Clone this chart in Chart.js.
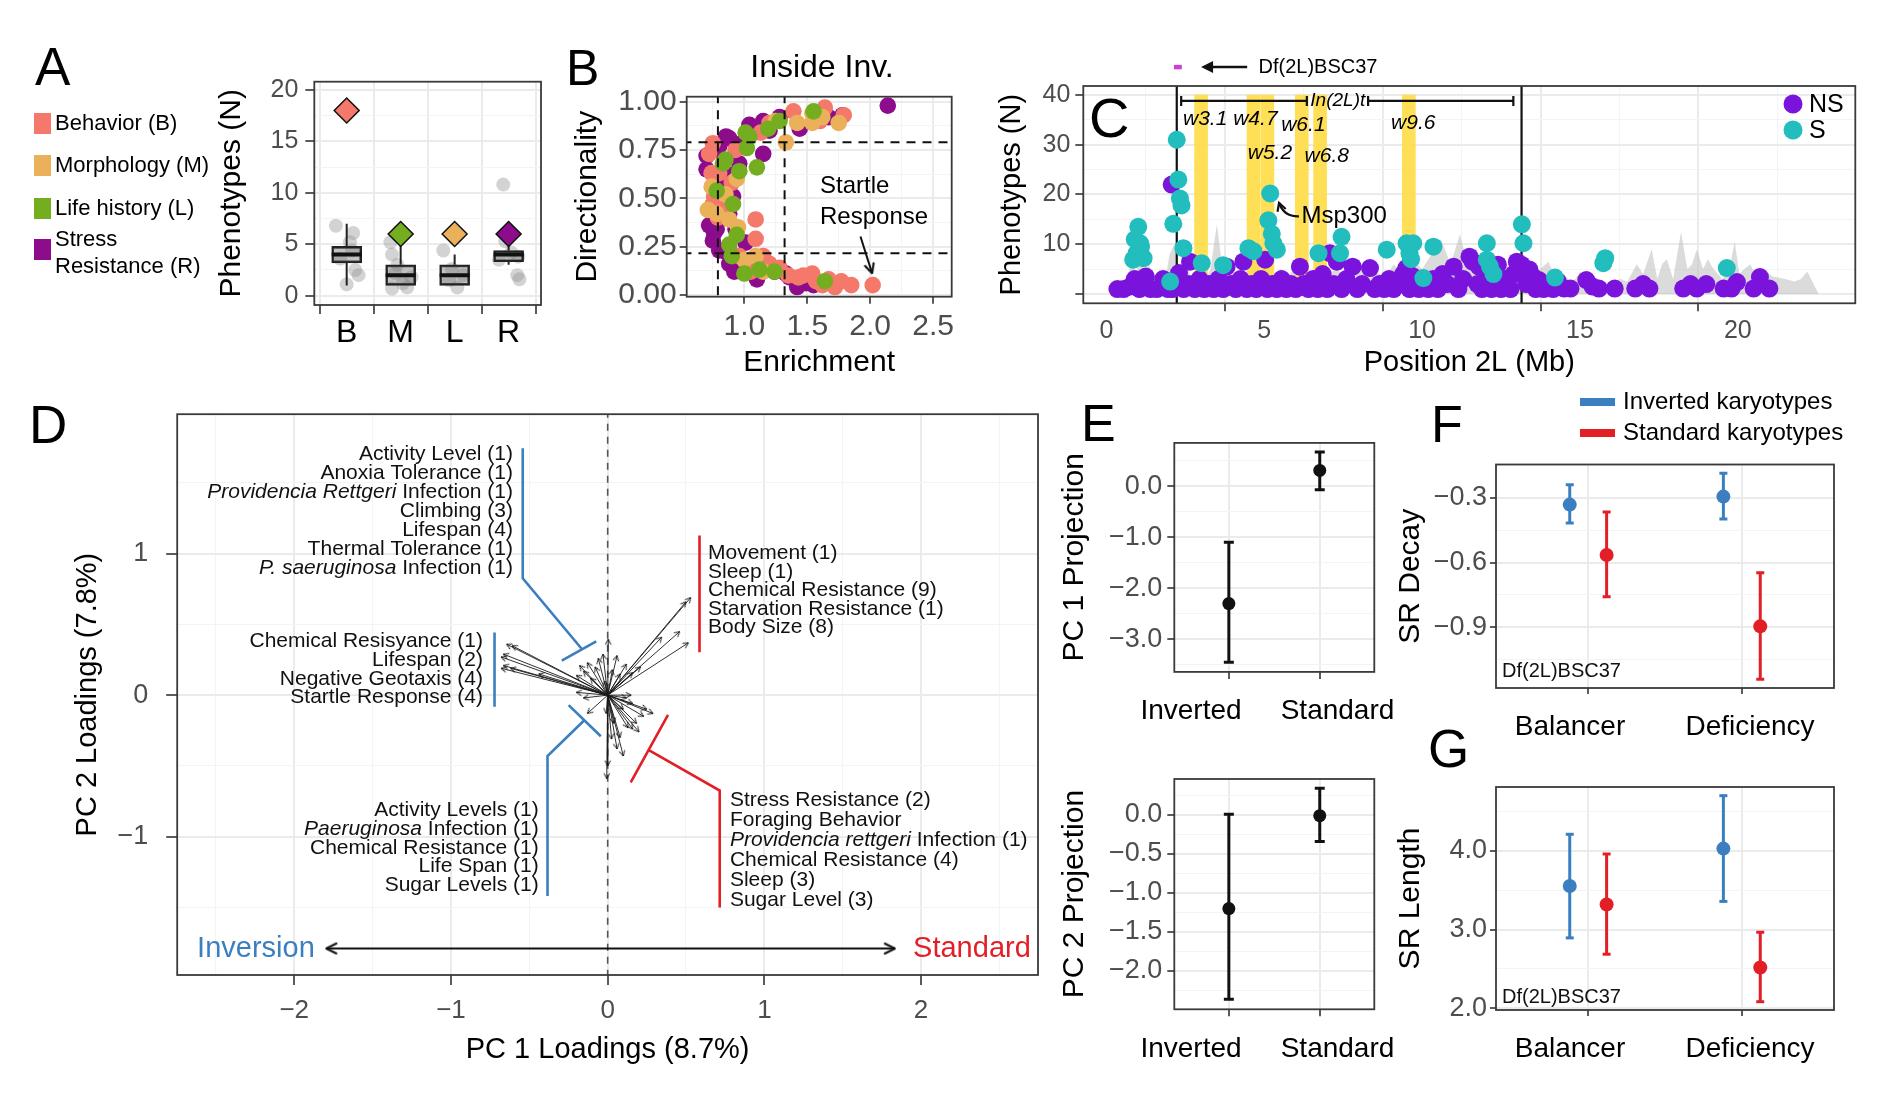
<!DOCTYPE html>
<html>
<head>
<meta charset="utf-8">
<title>Inversion In(2L)t phenotype figure</title>
<script src="https://cdn.jsdelivr.net/npm/chart.js@4.4.1/dist/chart.umd.min.js"></script>
<style>
  html, body { margin:0; padding:0; background:#ffffff; }
  body { position:relative; width:1878px; height:1104px; overflow:hidden; }
  canvas { position:absolute; }
</style>
</head>
<body>
<canvas id="cA"></canvas>
<canvas id="cB"></canvas>
<canvas id="cC"></canvas>
<canvas id="cD"></canvas>
<canvas id="cE1"></canvas>
<canvas id="cE2"></canvas>
<canvas id="cF"></canvas>
<canvas id="cG"></canvas>
<script>
// ===================== DATA =====================
// ---- Panel A ----
const catsA = ['B', 'M', 'L', 'R'];
const legendA = ['Behavior (B)', 'Morphology (M)', 'Life history (L)', 'Stress|Resistance (R)'];
const totalsA = [18, 6, 6, 6];
const boxLowA = [1, 1, 1, 3];
const boxQ1A = [3.2, 1, 1, 3.3];
const boxMedA = [4, 2, 2, 4];
const boxQ3A = [4.8, 3, 3, 4.4];
const boxHighA = [7, 5, 4, 5];
// [category index, jitter offset, count]
const jitterA = [[0,-0.20,6.8],[0,0.12,6.1],[0,0.06,5.2],[0,-0.12,3.6],[0,0.16,2.5],[0,0.22,2.0],[0,0.0,1.1],[0,0.1,4.4],
  [1,-0.19,5.2],[1,-0.16,4.0],[1,-0.06,3.0],[1,0.2,1.8],[1,0.12,0.8],[1,-0.16,0.7],[1,0.04,1.2],[1,-0.1,2.2],
  [2,-0.21,4.4],[2,-0.1,1.5],[2,0.05,0.8],[2,0.16,2.0],[2,-0.05,2.6],
  [3,-0.1,10.8],[3,-0.06,5.3],[3,0.18,3.8],[3,0.16,2.0],[3,0.2,1.6],[3,-0.18,3.5],[3,0.05,4.2]];

// ---- Panel B : [enrichment, directionality] ----
const behaviorB = [[1.64,0.97],[1.39,0.95],[1.79,0.93],[1.60,0.90],[1.20,0.89],[1.13,0.84],[0.75,0.785],[0.93,0.75],[0.72,0.73],[0.80,0.63],[0.74,0.63],[0.90,0.58],[0.76,0.51],[0.75,0.47],[0.82,0.45],[0.79,0.40],[1.09,0.39],[1.09,0.29],[0.96,0.20],[1.15,0.20],[1.07,0.16],[1.20,0.16],[1.28,0.14],[1.05,0.12],[1.35,0.10],[1.43,0.09],[1.47,0.10],[1.54,0.11],[1.57,0.07],[1.62,0.05],[1.67,0.08],[1.72,0.04],[1.77,0.07],[1.85,0.05],[2.02,0.05]];
const morphologyB = [[1.54,0.94],[1.62,0.92],[1.75,0.89],[1.54,0.89],[1.42,0.89],[1.25,0.90],[1.33,0.79],[0.94,0.60],[0.74,0.56],[0.85,0.52],[0.71,0.44],[0.78,0.42],[0.88,0.39],[0.95,0.35],[1.09,0.20],[1.00,0.18],[1.15,0.12]];
const lifeHistoryB = [[1.55,0.95],[1.28,0.90],[1.19,0.86],[1.01,0.84],[1.04,0.82],[1.02,0.76],[0.83,0.68],[1.10,0.66],[0.85,0.70],[0.96,0.64],[0.78,0.54],[0.91,0.47],[0.94,0.31],[0.88,0.26],[0.90,0.20],[1.12,0.13],[1.24,0.12],[1.00,0.11],[1.64,0.07]];
const stressB = [[2.14,0.98],[1.67,0.92],[1.78,0.93],[1.44,0.86],[1.15,0.90],[1.04,0.88],[1.10,0.86],[1.28,0.92],[1.20,0.85],[0.855,0.82],[0.88,0.81],[0.78,0.75],[0.95,0.78],[0.80,0.77],[1.15,0.73],[0.70,0.72],[0.96,0.68],[0.70,0.65],[0.90,0.62],[0.80,0.60],[0.83,0.54],[0.91,0.51],[0.88,0.42],[0.72,0.36],[0.78,0.34],[0.93,0.34],[0.76,0.32],[0.75,0.28],[1.01,0.27],[0.80,0.23],[0.86,0.22],[0.95,0.20],[0.88,0.16],[1.01,0.15],[0.92,0.12],[1.24,0.12],[1.33,0.11],[1.36,0.09],[1.10,0.08],[1.49,0.06],[1.55,0.05],[1.42,0.04]];
const cutEnrichB = [0.79, 1.32];
const cutDirB = [0.215, 0.79];
const startleArrowB = [1.923, 0.302, 2.015, 0.112];

// ---- Panel C : [position Mb, phenotypes] ----
const nsC = [[0.35,1],[0.55,1],[0.75,1.5],[0.9,3],[1.05,1],[1.25,3.5],[1.4,1],[1.6,1],[1.8,3],[1.95,1],[2.07,22],[2.1,1],[2.3,4.2],[2.45,1],[2.6,2],[2.65,6.5],[2.8,1],[2.95,3],[3.1,1],[3.25,2],[3.4,1],[3.55,3],[3.7,1],[3.81,5.5],[3.95,2],[4.1,1],[4.25,3],[4.34,6.5],[4.45,1],[4.6,2],[4.75,1],[4.9,3],[5.03,6.9],[5.1,1],[5.25,2],[5.4,1],[5.55,3],[5.7,1],[5.85,2],[6.0,1],[6.13,5.5],[6.25,2],[6.4,1],[6.55,3],[6.7,1],[6.85,4],[7.0,1],[7.08,8.2],[7.2,2],[7.3,6.5],[7.45,1],[7.6,3],[7.8,5.5],[7.95,1],[8.1,2],[8.35,5.2],[8.5,1],[8.65,2],[8.8,1],[8.95,3],[9.1,1],[9.25,2],[9.4,4],[9.5,5.2],[9.6,1],[9.72,3.5],[9.9,1],[10.05,2],[10.2,1],[10.35,3],[10.5,1],[10.65,4],[10.8,2],[11.0,5.5],[11.15,1],[11.3,3],[11.5,7.5],[11.6,6.5],[11.75,2],[11.8,5.5],[11.9,1],[12.05,3],[12.2,1],[12.35,2],[12.4,5.9],[12.5,1],[12.65,3],[12.8,1],[12.9,4],[13.0,6.5],[13.15,5.9],[13.3,2],[13.4,4.9],[13.5,3.5],[13.6,1],[13.7,2.8],[13.85,1],[14.0,2],[14.15,1],[14.3,2.5],[14.5,1.1],[14.7,1.1],[15.2,2.8],[15.4,1.5],[15.6,1.1],[16.1,1.1],[16.75,1.1],[17.0,2],[17.2,1.1],[18.27,1.1],[18.5,2],[18.7,1.1],[19.0,2],[19.55,1.1],[19.8,1.1],[19.97,2.4],[20.5,1.1],[20.7,3.4],[21.0,1.1]];
const sC = [[0.85,6.9],[0.96,8.2],[1.01,13.5],[1.07,10.2],[1.1,9.5],[0.9,11],[1.18,7.2],[2.02,2.5],[2.12,14.1],[2.23,31],[2.28,23],[2.33,19.2],[2.38,17.8],[2.44,9.2],[3.02,6.2],[3.7,5.8],[4.5,9.2],[4.66,8.6],[5.13,14.8],[5.19,20.2],[5.24,12.1],[5.29,10.2],[5.4,8.9],[6.72,8.2],[7.4,8.2],[7.45,11.5],[8.88,8.9],[9.51,10.2],[9.6,8.2],[9.65,7],[9.72,10.2],[10.04,3.2],[10.36,9.5],[12.05,10.2],[12.05,6.9],[12.15,5.5],[12.26,4.0],[13.16,14.0],[13.21,10.2],[14.21,3.3],[15.74,6.2],[15.8,7.2],[19.65,5.2]];
const densityC = [[0.6,0],[0.7,4],[0.8,7],[0.95,3],[1.05,9],[1.2,4],[1.35,6],[1.5,3],[1.7,5],[1.85,2],[2.0,8],[2.15,10],[2.3,4],[2.5,7],[2.7,3],[2.9,6],[3.1,2],[3.3,5],[3.5,14],[3.7,4],[3.9,6],[4.1,3],[4.3,5],[4.5,2],[4.7,7],[4.9,4],[5.1,6],[5.3,3],[5.5,5],[5.8,4],[6.1,6],[6.4,3],[6.7,7],[7.0,4],[7.3,5],[7.6,3],[7.9,6],[8.2,4],[8.5,5],[8.8,3],[9.1,6],[9.4,4],[9.7,7],[10.0,5],[10.3,8],[10.6,11],[10.9,6],[11.2,12],[11.4,7],[11.7,9],[12.0,6],[12.3,8],[12.6,5],[12.9,7],[13.2,6],[13.5,4],[13.74,5],[14.0,6.5],[14.25,3],[14.48,4],[14.7,2.5],[14.85,3],[15.0,4.5],[15.3,2],[15.6,2.5],[15.9,2],[16.27,3],[16.5,2.5],[16.8,6],[17.0,4],[17.27,9],[17.45,3],[17.6,6],[17.75,7],[17.95,3],[18.2,12.5],[18.4,5],[18.55,6],[18.7,9],[18.9,5],[19.05,7],[19.23,5],[19.5,3],[19.7,4],[19.9,10.5],[20.05,4],[20.2,5],[20.4,6],[20.6,3],[20.8,5],[21.1,3.5],[21.5,3],[21.8,2.5],[22.0,3],[22.2,4.5],[22.4,2],[22.56,0]];
const windowsC = [3.0, 4.66, 5.1, 6.19, 6.77, 9.58];
const windowNamesC = ['w3.1', 'w4.7', 'w5.2', 'w6.1', 'w6.8', 'w9.6'];
const windowLabelAtC = [[3.13,35.1],[4.72,35.1],[5.18,28.4],[6.24,33.9],[6.98,27.7],[9.72,34.3]];
const breakpointsC = [2.23, 13.15];
const invSpanC = [[2.37, 6.35], [8.29, 12.89]];
const dfSpanC = [2.14, 2.39];
const legendC = ['NS', 'S'];

// ---- Panel D : loadings [PC1, PC2] ----
const arrowsD = [[-0.645,0.36],[-0.61,0.35],[-0.666,0.29],[-0.68,0.27],[-0.666,0.21],[-0.68,0.19],[-0.62,0.19],[-0.44,0.15],[0.53,0.69],[0.50,0.66],[0.515,0.37],[0.46,0.45],[0.345,0.41],[0.21,0.2],[0.16,0.16],[0.004,0.395],[0.06,0.28],[0.12,0.22],[-0.06,0.26],[-0.13,0.23],[-0.18,0.21],[-0.155,0.17],[-0.08,0.2],[-0.2,0.14],[-0.11,0.12],[-0.03,0.29],[0.08,0.15],[0.03,0.18],[-0.02,0.1],[-0.155,-0.02],[-0.13,-0.13],[-0.2,0.02],[0.29,-0.13],[0.25,-0.1],[0.23,-0.15],[0.185,-0.2],[0.2,-0.26],[0.16,-0.24],[0.13,-0.23],[0.1,-0.43],[0.06,-0.38],[0.025,-0.31],[0.15,0],[0.12,-0.02],[0.16,-0.06],[0.1,-0.1],[0.08,-0.3],[0.04,-0.2],[-0.006,-0.59],[-0.01,-0.13],[0.0,-0.5]];
const blueBracketsD = [
  [[-0.542,1.745],[-0.542,0.826],[-0.165,0.326]],
  [[-0.293,0.244],[-0.073,0.38]],
  [[-0.722,0.442],[-0.722,-0.081]],
  [[-0.249,-0.07],[-0.044,-0.29]],
  [[-0.146,-0.174],[-0.384,-0.43],[-0.384,-1.419]]
];
const redBracketsD = [
  [[0.586,1.128],[0.586,0.303]],
  [[0.385,-0.14],[0.147,-0.616]],
  [[0.257,-0.384],[0.715,-0.674],[0.715,-1.5]]
];
const labelsTopLeftD = ['Activity Level (1)', 'Anoxia Tolerance (1)', '*Providencia Rettgeri* Infection (1)', 'Climbing (3)', 'Lifespan (4)', 'Thermal Tolerance (1)', '*P. saeruginosa* Infection (1)'];
const labelsMidLeftD = ['Chemical Resisyance (1)', 'Lifespan (2)', 'Negative Geotaxis (4)', 'Startle Response (4)'];
const labelsTopRightD = ['Movement (1)', 'Sleep (1)', 'Chemical Resistance (9)', 'Starvation Resistance (1)', 'Body Size (8)'];
const labelsBottomLeftD = ['Activity Levels (1)', '*Paeruginosa* Infection (1)', 'Chemical Resistance (1)', 'Life Span (1)', 'Sugar Levels (1)'];
const labelsBottomRightD = ['Stress Resistance (2)', 'Foraging Behavior', '*Providencia rettgeri* Infection (1)', 'Chemical Resistance (4)', 'Sleep (3)', 'Sugar Level (3)'];
const axisArrowD = [-1.795, 1.832, -1.79];

// ---- Panel E ----
const catsE = ['Inverted', 'Standard'];
const pc1MeanE = [-2.30, 0.31], pc1LoE = [-3.45, -0.07], pc1HiE = [-1.10, 0.67];
const pc2MeanE = [-1.20, -0.01], pc2LoE = [-2.36, -0.34], pc2HiE = [0.01, 0.34];

// ---- Panels F, G ----
const catsF = ['Balancer', 'Deficiency'];
const legendF = ['Inverted karyotypes', 'Standard karyotypes'];
const decayInvMean = [-0.331, -0.294], decayInvLo = [-0.416, -0.398], decayInvHi = [-0.239, -0.186];
const decayStdMean = [-0.565, -0.896], decayStdLo = [-0.759, -1.141], decayStdHi = [-0.365, -0.647];
const lengthInvMean = [3.553, 4.028], lengthInvLo = [2.895, 3.358], lengthInvHi = [4.21, 4.70];
const lengthStdMean = [3.319, 2.52], lengthStdLo = [2.688, 2.085], lengthStdHi = [3.96, 2.967];

// ===================== STYLE / HELPERS =====================
const FONT = "'Liberation Sans', Arial, Helvetica, sans-serif";
const C_SALMON = '#F4796B', C_ORANGE = '#EBB15A', C_GREEN = '#74AD1F', C_PURPLE = '#8C0C8C';
const C_NS = '#7A14DC', C_S = '#22BDBD';
const C_BLUE = '#3B7FC0', C_RED = '#E21F26';
const GRID_MAJ = '#EBEBEB', GRID_MIN = '#F4F4F4', DARK = '#333333', TICKC = '#4D4D4D';
const DODGE = 0.12;
Chart.defaults.font.family = FONT;

function makeHead(len, half, lw, color) {
  const s = Math.ceil(len * 2 + 6);
  const c = document.createElement('canvas');
  c.width = s; c.height = s;
  const g = c.getContext('2d');
  const cx = s / 2, cy = s / 2;
  g.strokeStyle = color; g.lineWidth = lw; g.lineCap = 'round'; g.lineJoin = 'round';
  g.beginPath(); g.moveTo(cx - len, cy - half); g.lineTo(cx, cy); g.lineTo(cx - len, cy + half); g.stroke();
  return c;
}
const headD = makeHead(5, 2.6, 1, '#111');
const headB = makeHead(9, 4.5, 2, '#111');
const headLong = makeHead(10, 5, 2, '#111');

function axis(o) {
  const horiz = o.pos === 'bottom';
  const all = o.major.map(v => ({v: v, mn: false})).concat((o.minor || []).map(v => ({v: v, mn: true}))).sort((a, b) => a.v - b.v);
  return {
    type: 'linear', position: o.pos, min: o.min, max: o.max, bounds: 'data', offset: false,
    afterBuildTicks: s => { s.ticks = all.map(t => ({value: t.v, mn: t.mn})); },
    afterFit: s => { if (horiz) s.height = o.size; else s.width = o.size; },
    ticks: {
      autoSkip: false, maxRotation: 0, minRotation: 0, padding: (o.pad === undefined ? 4 : o.pad),
      color: o.tcolor || TICKC, font: {size: o.tsize || 20, family: FONT},
      callback: (v, i, ts) => ((ts[i] && ts[i].mn) || o.nolabels || (o.hide && o.hide.indexOf(v) >= 0)) ? '' : o.fmt(v)
    },
    grid: {
      drawOnChartArea: true, drawTicks: true, tickLength: (o.tlen === undefined ? 8 : o.tlen),
      color: c => (c.tick && c.tick.mn) ? GRID_MIN : GRID_MAJ,
      lineWidth: c => (c.tick && c.tick.mn) ? 1.1 : 2,
      tickColor: c => (c.tick && c.tick.mn) ? 'rgba(0,0,0,0)' : DARK,
      tickWidth: 1.6
    },
    border: {display: false},
    title: o.title ? {display: true, text: o.title, color: '#000', font: {size: o.titleSize, family: FONT}, padding: 0} : {display: false}
  };
}

function txt(ctx, s, x, y, o) {
  o = o || {};
  ctx.save();
  ctx.font = (o.italic ? 'italic ' : '') + (o.size || 20) + 'px ' + FONT;
  ctx.fillStyle = o.color || '#000';
  ctx.textAlign = o.align || 'left';
  ctx.textBaseline = o.base || 'middle';
  ctx.fillText(s, x, y);
  ctx.restore();
}
function rich(ctx, s, x, y, size, align, color) {
  const parts = s.split('*');
  ctx.save();
  ctx.textBaseline = 'middle'; ctx.textAlign = 'left'; ctx.fillStyle = color || '#111';
  const widths = parts.map((p, i) => { ctx.font = (i % 2 ? 'italic ' : '') + size + 'px ' + FONT; return ctx.measureText(p).width; });
  const total = widths.reduce((a, b) => a + b, 0);
  let cx = align === 'right' ? x - total : x;
  parts.forEach((p, i) => { ctx.font = (i % 2 ? 'italic ' : '') + size + 'px ' + FONT; ctx.fillText(p, cx, y); cx += widths[i]; });
  ctx.restore();
}
function rotOf(c) {
  const i = c.dataIndex, d = c.dataset.data;
  if (i % 3 !== 1) return 0;
  const xs = c.chart.scales.x, ys = c.chart.scales.y, p = d[i - 1], q = d[i];
  return Math.atan2(ys.getPixelForValue(q.y) - ys.getPixelForValue(p.y), xs.getPixelForValue(q.x) - xs.getPixelForValue(p.x)) * 180 / Math.PI;
}
function arrowSet(segs, color, lw, head, order) {
  const data = [];
  segs.forEach(s => { data.push({x: s[0], y: s[1]}, {x: s[2], y: s[3]}, {x: s[2], y: null}); });
  return {type: 'line', showLine: true, data: data, borderColor: color, borderWidth: lw, pointStyle: head,
    pointRadius: c => (c.dataIndex % 3 === 1 ? 3 : 0), pointRotation: rotOf, order: order};
}
function polySet(polys, color, lw, order) {
  const data = [];
  polys.forEach(p => { p.forEach(q => data.push({x: q[0], y: q[1]})); data.push({x: p[p.length - 1][0], y: null}); });
  return {type: 'line', showLine: true, data: data, borderColor: color, borderWidth: lw, pointRadius: 0, order: order};
}
function errorbarSets(xs, lo, hi, mean, color, capR, lw, ptR) {
  const eb = [];
  xs.forEach((x, i) => { eb.push({x: x, y: lo[i]}, {x: x, y: hi[i]}, {x: x, y: null}); });
  return [
    {type: 'line', showLine: true, data: eb, borderColor: color, borderWidth: lw, pointStyle: 'line',
      pointRadius: c => (c.dataIndex % 3 === 2 ? 0 : capR), pointBorderColor: color, pointBorderWidth: lw, order: 2},
    {type: 'scatter', data: xs.map((x, i) => ({x: x, y: mean[i]})), pointRadius: ptR, pointBackgroundColor: color, pointBorderWidth: 0, order: 1}
  ];
}
function mk(id, rect, plot, yW, xH, cfg, draw) {
  const L = rect[0], T = rect[1], W = rect[2], H = rect[3];
  const pl = plot[0], pt = plot[1], pr = plot[2], pb = plot[3];
  const cv = document.getElementById(id);
  cv.width = W; cv.height = H;
  cv.style.left = L + 'px'; cv.style.top = T + 'px'; cv.style.width = W + 'px'; cv.style.height = H + 'px';
  const op = cfg.options;
  op.responsive = false; op.maintainAspectRatio = false; op.animation = false; op.devicePixelRatio = 1; op.events = [];
  op.layout = {padding: {left: pl - L - yW, top: pt - T, right: L + W - pr, bottom: T + H - pb - xH}};
  op.plugins = {legend: {display: false}, tooltip: {enabled: false}, title: {display: false}};
  cfg.plugins = [{
    id: 'frame_' + id,
    afterDraw(chart) {
      const ctx = chart.ctx, a = chart.chartArea;
      ctx.save();
      ctx.strokeStyle = '#3A3A3A'; ctx.lineWidth = 1.8;
      ctx.strokeRect(a.left, a.top, a.right - a.left, a.bottom - a.top);
      ctx.restore();
      if (draw) { ctx.save(); draw(chart, ctx, px => px - L, py => py - T); ctx.restore(); }
    }
  }];
  return new Chart(cv, cfg);
}
const fmtSigned = d => v => (v < 0 ? '\u2212' : '') + (d === null ? String(Math.abs(v)) : Math.abs(v).toFixed(d));

// ===================== PANEL A =====================
function whiskersA() {
  const d = [];
  catsA.forEach((c, i) => {
    d.push({x: i + 1, y: boxQ3A[i]}, {x: i + 1, y: boxHighA[i]}, {x: i + 1, y: null},
           {x: i + 1, y: boxLowA[i]}, {x: i + 1, y: boxQ1A[i]}, {x: i + 1, y: null});
  });
  return d;
}
mk('cA', [0, 30, 560, 330], [314.3, 81.7, 545.7, 305], 100.3, 45, {
  type: 'scatter',
  data: {datasets: [
    {type: 'scatter', data: jitterA.map(p => ({x: p[0] + 1 + p[1], y: p[2]})), pointRadius: 7, pointBackgroundColor: 'rgba(150,150,150,0.42)', pointBorderWidth: 0, order: 5},
    {type: 'line', showLine: true, data: whiskersA(), borderColor: '#222', borderWidth: 2, pointRadius: 0, order: 4},
    {type: 'bar', data: catsA.map((c, i) => ({x: i + 1, y: [boxQ1A[i], boxQ3A[i]]})), barThickness: 30, backgroundColor: 'rgba(120,120,120,0.45)', borderColor: '#222', borderWidth: 2, borderSkipped: false, order: 3},
    {type: 'scatter', data: boxMedA.map((m, i) => ({x: i + 1, y: m})), pointStyle: 'line', pointRadius: 15, pointBorderColor: '#111', pointBorderWidth: 4, order: 2},
    {type: 'scatter', data: totalsA.map((t, i) => ({x: i + 1, y: t})), pointStyle: 'rectRot', pointRadius: 12.5, pointBackgroundColor: [C_SALMON, C_GREEN, C_ORANGE, C_PURPLE], pointBorderColor: '#111', pointBorderWidth: 1.5, order: 1}
  ]},
  options: {scales: {
    x: axis({pos: 'bottom', min: 0.4, max: 4.6, major: [1, 2, 3, 4], fmt: v => catsA[Math.round(v) - 1], tsize: 32, tcolor: '#000', size: 45, tlen: 9, pad: 0}),
    y: axis({pos: 'left', min: -0.9, max: 20.8, major: [0, 5, 10, 15, 20], minor: [2.5, 7.5, 12.5, 17.5], fmt: v => String(v), tsize: 25, size: 100.3, tlen: 9, pad: 7, title: 'Phenotypes (N)', titleSize: 30})
  }}
}, (ch, ctx, X, Y) => {
  txt(ctx, 'A', X(35), Y(85), {size: 53, base: 'alphabetic'});
  const cols = [C_SALMON, C_ORANGE, C_GREEN, C_PURPLE];
  const tops = [113, 155, 198, 239];
  legendA.forEach((lab, i) => {
    ctx.fillStyle = cols[i];
    ctx.fillRect(X(34), Y(tops[i]), 17, 21);
    const lines = lab.split('|');
    if (lines.length === 1) txt(ctx, lab, X(55), Y(tops[i] + 10.5), {size: 22});
    else { txt(ctx, lines[0], X(55), Y(240), {size: 22}); txt(ctx, lines[1], X(55), Y(267), {size: 22}); }
  });
});

// ===================== PANEL B =====================
mk('cB', [560, 30, 420, 360], [686.7, 96.7, 951.7, 296.7], 116.7, 84.3, {
  type: 'scatter',
  data: {datasets: [
    ...cutEnrichB.map(v => ({type: 'line', showLine: true, data: [{x: v, y: -0.5}, {x: v, y: 1.5}], borderColor: '#111', borderWidth: 2, borderDash: [9, 7], pointRadius: 0, clip: 0, order: 0})),
    ...cutDirB.map(v => ({type: 'line', showLine: true, data: [{x: 0, y: v}, {x: 3, y: v}], borderColor: '#111', borderWidth: 2, borderDash: [9, 7], pointRadius: 0, clip: 0, order: 0})),
    arrowSet([startleArrowB], '#111', 2, headB, 0),
    {type: 'scatter', data: stressB.map(p => ({x: p[0], y: p[1]})), pointRadius: 8.3, pointBackgroundColor: C_PURPLE, pointBorderWidth: 0, order: 4},
    {type: 'scatter', data: behaviorB.map(p => ({x: p[0], y: p[1]})), pointRadius: 8.3, pointBackgroundColor: C_SALMON, pointBorderWidth: 0, order: 3},
    {type: 'scatter', data: morphologyB.map(p => ({x: p[0], y: p[1]})), pointRadius: 8.3, pointBackgroundColor: C_ORANGE, pointBorderWidth: 0, order: 2},
    {type: 'scatter', data: lifeHistoryB.map(p => ({x: p[0], y: p[1]})), pointRadius: 8.3, pointBackgroundColor: C_GREEN, pointBorderWidth: 0, order: 1}
  ]},
  options: {scales: {
    x: axis({pos: 'bottom', min: 0.542, max: 2.648, major: [1, 1.5, 2, 2.5], minor: [0.75, 1.25, 1.75, 2.25], fmt: v => v.toFixed(1), tsize: 30, size: 84.3, tlen: 7, pad: 5, title: 'Enrichment', titleSize: 30}),
    y: axis({pos: 'left', min: -0.01, max: 1.026, major: [0, 0.25, 0.5, 0.75, 1], minor: [0.125, 0.375, 0.625, 0.875], fmt: v => v.toFixed(2), tsize: 30, size: 116.7, tlen: 7, pad: 3, title: 'Directionality', titleSize: 30})
  }}
}, (ch, ctx, X, Y) => {
  txt(ctx, 'B', X(566), Y(85), {size: 50, base: 'alphabetic'});
  txt(ctx, 'Inside Inv.', X(822), Y(68), {size: 32, align: 'center'});
  txt(ctx, 'Startle', X(820), Y(186), {size: 24});
  txt(ctx, 'Response', X(820), Y(217), {size: 24});
});

// ===================== PANEL C =====================
mk('cC', [980, 40, 898, 350], [1083.3, 86, 1855.3, 303.3], 89.1, 77.1, {
  type: 'scatter',
  data: {datasets: [
    {type: 'line', showLine: true, data: densityC.map(p => ({x: p[0], y: p[1]})), fill: 'origin', backgroundColor: 'rgba(190,190,190,0.55)', borderColor: 'rgba(0,0,0,0)', borderWidth: 0, pointRadius: 0, order: 10},
    {type: 'bar', data: windowsC.map(w => ({x: w, y: [0, 40]})), barThickness: 13, backgroundColor: 'rgba(255,220,70,0.92)', borderWidth: 0, order: 9},
    polySet(breakpointsC.map(b => [[b, -5], [b, 50]]), '#111', 2.2, 8),
    {type: 'scatter', data: nsC.map(p => ({x: p[0], y: p[1]})), pointRadius: 9, pointBackgroundColor: C_NS, pointBorderWidth: 0, order: 3},
    {type: 'scatter', data: sC.map(p => ({x: p[0], y: p[1]})), pointRadius: 9, pointBackgroundColor: C_S, pointBorderWidth: 0, order: 2}
  ]},
  options: {scales: {
    x: axis({pos: 'bottom', min: -0.73, max: 23.72, major: [0, 5, 10, 15, 20], minor: [2.5, 7.5, 12.5, 17.5, 22.5], fmt: v => String(v), tsize: 25, size: 77.1, tlen: 8, pad: 5, title: 'Position 2L (Mb)', titleSize: 29}),
    y: axis({pos: 'left', min: -1.87, max: 41.8, major: [0, 10, 20, 30, 40], minor: [5, 15, 25, 35], hide: [0], fmt: v => String(v), tsize: 25, size: 89.1, tlen: 8, pad: 5, title: 'Phenotypes (N)', titleSize: 29})
  }}
}, (ch, ctx, X, Y) => {
  const sx = v => ch.scales.x.getPixelForValue(v), sy = v => ch.scales.y.getPixelForValue(v);
  txt(ctx, 'C', X(1089), Y(137), {size: 56, base: 'alphabetic'});
  [C_NS, C_S].forEach((col, i) => {
    const py = 104 + i * 26;
    ctx.fillStyle = col; ctx.beginPath(); ctx.arc(X(1793), Y(py), 9.5, 0, Math.PI * 2); ctx.fill();
    txt(ctx, legendC[i], X(1809), Y(py + 1), {size: 25});
  });
  const yDf = sy(45.6);
  ctx.strokeStyle = '#D040D0'; ctx.lineWidth = 4.5;
  ctx.beginPath(); ctx.moveTo(sx(dfSpanC[0]), yDf); ctx.lineTo(sx(dfSpanC[1]), yDf); ctx.stroke();
  ctx.strokeStyle = '#111'; ctx.fillStyle = '#111'; ctx.lineWidth = 2.5;
  const ax = sx(3.0);
  ctx.beginPath(); ctx.moveTo(sx(4.46), yDf); ctx.lineTo(ax + 8, yDf); ctx.stroke();
  ctx.beginPath(); ctx.moveTo(ax, yDf); ctx.lineTo(ax + 12, yDf - 6); ctx.lineTo(ax + 12, yDf + 6); ctx.closePath(); ctx.fill();
  txt(ctx, 'Df(2L)BSC37', sx(4.82), yDf, {size: 20});
  const yb = sy(38.8);
  ctx.lineWidth = 2.2;
  invSpanC.forEach(s => {
    ctx.beginPath();
    ctx.moveTo(sx(s[0]), yb); ctx.lineTo(sx(s[1]), yb);
    ctx.moveTo(sx(s[0]), yb - 5); ctx.lineTo(sx(s[0]), yb + 5);
    ctx.moveTo(sx(s[1]), yb - 5); ctx.lineTo(sx(s[1]), yb + 5);
    ctx.stroke();
  });
  txt(ctx, 'In(2L)t', sx(7.33), yb, {size: 19, italic: true, align: 'center'});
  windowNamesC.forEach((w, i) => txt(ctx, w, sx(windowLabelAtC[i][0]), sy(windowLabelAtC[i][1]), {size: 21, italic: true, align: 'center'}));
  txt(ctx, 'Msp300', sx(6.18), sy(15.5), {size: 24});
  const p0 = [sx(6.10), sy(15.6)], pc = [sx(5.62), sy(15.5)], p1 = [sx(5.47), sy(18.3)];
  ctx.lineWidth = 2.2;
  ctx.beginPath(); ctx.moveTo(p0[0], p0[1]); ctx.quadraticCurveTo(pc[0], pc[1], p1[0], p1[1]); ctx.stroke();
  const ang = Math.atan2(p1[1] - pc[1], p1[0] - pc[0]);
  ctx.beginPath();
  ctx.moveTo(p1[0] - 9 * Math.cos(ang - 0.5), p1[1] - 9 * Math.sin(ang - 0.5));
  ctx.lineTo(p1[0], p1[1]);
  ctx.lineTo(p1[0] - 9 * Math.cos(ang + 0.5), p1[1] - 9 * Math.sin(ang + 0.5));
  ctx.stroke();
});

// ===================== PANEL D =====================
mk('cD', [0, 380, 1060, 710], [177.2, 407.3, 1038, 975], 106.3, 92.4, {
  type: 'scatter',
  data: {datasets: [
    {type: 'line', showLine: true, data: [{x: 0, y: -3}, {x: 0, y: 3}], borderColor: '#555', borderWidth: 1.6, borderDash: [7, 6], pointRadius: 0, clip: 0, order: 9},
    arrowSet(arrowsD.map(a => [0, 0, a[0], a[1]]), '#1A1A1A', 0.9, headD, 5),
    polySet(blueBracketsD, C_BLUE, 2.6, 4),
    polySet(redBracketsD, C_RED, 2.6, 4),
    arrowSet([[0.02, axisArrowD[2], axisArrowD[0], axisArrowD[2]], [0.02, axisArrowD[2], axisArrowD[1], axisArrowD[2]]], '#111', 2, headLong, 3)
  ]},
  options: {scales: {
    x: axis({pos: 'bottom', min: -2.747, max: 2.746, major: [-2, -1, 0, 1, 2], minor: [-2.5, -1.5, -0.5, 0.5, 1.5, 2.5], fmt: fmtSigned(null), tsize: 26, size: 92.4, tlen: 10, pad: 10, title: 'PC 1 Loadings (8.7%)', titleSize: 29}),
    y: axis({pos: 'left', min: -1.977, max: 1.985, major: [-1, 0, 1], minor: [-1.5, -0.5, 0.5, 1.5], fmt: fmtSigned(null), tsize: 27, size: 106.3, tlen: 11, pad: 18, title: 'PC 2 Loadings (7.8%)', titleSize: 29})
  }}
}, (ch, ctx, X, Y) => {
  const sx = v => ch.scales.x.getPixelForValue(v), sy = v => ch.scales.y.getPixelForValue(v);
  txt(ctx, 'D', X(29), Y(443), {size: 53, base: 'alphabetic'});
  const groups = [
    {lines: labelsTopLeftD, x: -0.604, y0: 1.699, dy: 0.1332, align: 'right'},
    {lines: labelsMidLeftD, x: -0.796, y0: 0.380, dy: 0.132, align: 'right'},
    {lines: labelsTopRightD, x: 0.640, y0: 1.001, dy: 0.131, align: 'left'},
    {lines: labelsBottomLeftD, x: -0.44, y0: -0.814, dy: 0.132, align: 'right'},
    {lines: labelsBottomRightD, x: 0.78, y0: -0.744, dy: 0.141, align: 'left'}
  ];
  groups.forEach(g => g.lines.forEach((s, i) => rich(ctx, s, sx(g.x), sy(g.y0 - i * g.dy), 21, g.align, '#111')));
  txt(ctx, 'Inversion', sx(-2.62), sy(axisArrowD[2]), {size: 29, color: C_BLUE});
  txt(ctx, 'Standard', sx(2.70), sy(axisArrowD[2]), {size: 29, color: C_RED, align: 'right'});
});

// ===================== PANEL E =====================
const xCatAxis = (tlen) => axis({pos: 'bottom', min: 0.4, max: 2.6, major: [1, 2], nolabels: true, fmt: String, tsize: 10, size: 40, tlen: tlen});
mk('cE1', [1040, 390, 360, 340], [1174.3, 442.9, 1374.3, 671.9], 117.3, 40, {
  type: 'scatter',
  data: {datasets: errorbarSets([1, 2], pc1LoE, pc1HiE, pc1MeanE, '#111', 5, 3, 6.5)},
  options: {scales: {
    x: xCatAxis(7),
    y: axis({pos: 'left', min: -3.64, max: 0.85, major: [-3, -2, -1, 0], minor: [-3.5, -2.5, -1.5, -0.5, 0.5], fmt: fmtSigned(1), tsize: 27, size: 117.3, tlen: 7, pad: 5, title: 'PC 1 Projection', titleSize: 30})
  }}
}, (ch, ctx, X, Y) => {
  txt(ctx, 'E', X(1081), Y(441), {size: 52, base: 'alphabetic'});
  txt(ctx, catsE[0], X(1191), Y(711), {size: 28, align: 'center'});
  txt(ctx, catsE[1], X(1337.5), Y(711), {size: 28, align: 'center'});
});
mk('cE2', [1040, 740, 360, 350], [1174.3, 779, 1374.3, 1009.3], 117.3, 40, {
  type: 'scatter',
  data: {datasets: errorbarSets([1, 2], pc2LoE, pc2HiE, pc2MeanE, '#111', 5, 3, 6.5)},
  options: {scales: {
    x: xCatAxis(7),
    y: axis({pos: 'left', min: -2.49, max: 0.46, major: [-2, -1.5, -1, -0.5, 0], minor: [-2.25, -1.75, -1.25, -0.75, -0.25, 0.25], fmt: fmtSigned(1), tsize: 27, size: 117.3, tlen: 7, pad: 5, title: 'PC 2 Projection', titleSize: 30})
  }}
}, (ch, ctx, X, Y) => {
  txt(ctx, catsE[0], X(1191), Y(1049), {size: 28, align: 'center'});
  txt(ctx, catsE[1], X(1337.5), Y(1049), {size: 28, align: 'center'});
});

// ===================== PANELS F, G =====================
mk('cF', [1390, 380, 488, 370], [1496, 464.5, 1834, 688], 103, 40, {
  type: 'scatter',
  data: {datasets: [
    ...errorbarSets([1 - DODGE, 2 - DODGE], decayInvLo, decayInvHi, decayInvMean, C_BLUE, 4, 3, 7),
    ...errorbarSets([1 + DODGE, 2 + DODGE], decayStdLo, decayStdHi, decayStdMean, C_RED, 4, 3, 7)
  ]},
  options: {scales: {
    x: xCatAxis(6),
    y: axis({pos: 'left', min: -1.182, max: -0.145, major: [-0.9, -0.6, -0.3], minor: [-1.05, -0.75, -0.45, -0.15], fmt: fmtSigned(1), tsize: 27, size: 103, tlen: 6, pad: 3, title: 'SR Decay', titleSize: 30})
  }}
}, (ch, ctx, X, Y) => {
  txt(ctx, 'F', X(1431), Y(442), {size: 52, base: 'alphabetic'});
  [C_BLUE, C_RED].forEach((col, i) => {
    const py = 402 + i * 31;
    ctx.strokeStyle = col; ctx.lineWidth = 8;
    ctx.beginPath(); ctx.moveTo(X(1580), Y(py)); ctx.lineTo(X(1615), Y(py)); ctx.stroke();
    txt(ctx, legendF[i], X(1623), Y(py), {size: 24});
  });
  txt(ctx, 'Df(2L)BSC37', X(1502), Y(671), {size: 20, color: '#111'});
  txt(ctx, catsF[0], X(1570), Y(727.6), {size: 28, align: 'center'});
  txt(ctx, catsF[1], X(1750), Y(727.6), {size: 28, align: 'center'});
});
mk('cG', [1390, 720, 488, 370], [1496, 787, 1834, 1010], 103, 40, {
  type: 'scatter',
  data: {datasets: [
    ...errorbarSets([1 - DODGE, 2 - DODGE], lengthInvLo, lengthInvHi, lengthInvMean, C_BLUE, 4, 3, 7),
    ...errorbarSets([1 + DODGE, 2 + DODGE], lengthStdLo, lengthStdHi, lengthStdMean, C_RED, 4, 3, 7)
  ]},
  options: {scales: {
    x: xCatAxis(6),
    y: axis({pos: 'left', min: 1.98, max: 4.81, major: [2, 3, 4], minor: [2.5, 3.5, 4.5], fmt: fmtSigned(1), tsize: 27, size: 103, tlen: 6, pad: 3, title: 'SR Length', titleSize: 30})
  }}
}, (ch, ctx, X, Y) => {
  txt(ctx, 'G', X(1428), Y(767), {size: 53, base: 'alphabetic'});
  txt(ctx, 'Df(2L)BSC37', X(1502), Y(997), {size: 20, color: '#111'});
  txt(ctx, catsF[0], X(1570), Y(1048.8), {size: 28, align: 'center'});
  txt(ctx, catsF[1], X(1750), Y(1048.8), {size: 28, align: 'center'});
});
</script>
</body>
</html>
